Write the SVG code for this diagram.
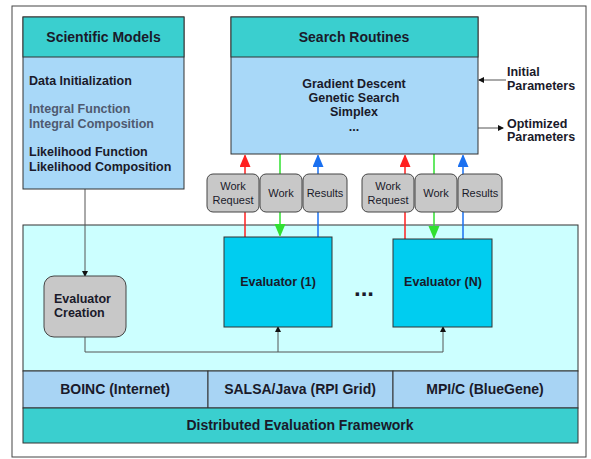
<svg xmlns="http://www.w3.org/2000/svg" width="591" height="459" viewBox="0 0 591 459">
<style>
text{font-family:"Liberation Sans",Arial,sans-serif;fill:#1a1a2a}
.b{font-weight:bold}
.h{font-size:14px;font-weight:bold}
.t{font-size:12.5px;font-weight:bold}
.g{fill:#4f5a70}
.s{font-size:11px}
.hdr{fill:#3acfcf;stroke:#333;stroke-width:1}
.body{fill:#a8d8f8;stroke:#333;stroke-width:1}
.btn{fill:#c8c8c8;stroke:#444;stroke-width:1}
.ev{fill:#00cdf0;stroke:#333;stroke-width:1}
.ln{stroke:#555;stroke-width:1;fill:none}
</style>
<defs>
<marker id="ak" markerWidth="6" markerHeight="6" refX="5" refY="3" orient="auto" markerUnits="userSpaceOnUse"><path d="M0,0 L6,3 L0,6 Z" fill="#111"/></marker>
<marker id="ar" markerWidth="11" markerHeight="13" refX="12" refY="5.5" orient="auto" markerUnits="userSpaceOnUse"><path d="M0,0 L13,5.5 L0,11 Z" fill="#ff2020"/></marker>
<marker id="ag" markerWidth="11" markerHeight="13" refX="12" refY="5.5" orient="auto" markerUnits="userSpaceOnUse"><path d="M0,0 L13,5.5 L0,11 Z" fill="#30e030"/></marker>
<marker id="ab" markerWidth="11" markerHeight="13" refX="12" refY="5.5" orient="auto" markerUnits="userSpaceOnUse"><path d="M0,0 L13,5.5 L0,11 Z" fill="#1a70f0"/></marker>
</defs>
<rect x="0" y="0" width="591" height="459" fill="#fff"/>
<rect x="12" y="6" width="574" height="451" fill="#fff" stroke="#444" stroke-width="1"/>

<g id="framework">
<rect x="23" y="225" width="555" height="146" fill="#ccffff" stroke="#333"/>
<rect x="23" y="371" width="185" height="37" fill="#a8d4f4" stroke="#333"/>
<rect x="208" y="371" width="185" height="37" fill="#a8d4f4" stroke="#333"/>
<rect x="393" y="371" width="185" height="37" fill="#a8d4f4" stroke="#333"/>
<rect x="23" y="408" width="555" height="35" fill="#3acfcf" stroke="#333"/>
<text class="h" x="115" y="394" text-anchor="middle">BOINC (Internet)</text>
<text class="h" x="300" y="394" text-anchor="middle">SALSA/Java (RPI Grid)</text>
<text class="h" x="485" y="394" text-anchor="middle">MPI/C (BlueGene)</text>
<text class="h" x="300" y="430" text-anchor="middle">Distributed Evaluation Framework</text>
</g>

<g id="connectors">
<line x1="245" y1="237" x2="245" y2="155" stroke="#ff2020" stroke-width="1.5" marker-end="url(#ar)"/>
<line x1="280" y1="154" x2="280" y2="236" stroke="#30e030" stroke-width="1.5" marker-end="url(#ag)"/>
<line x1="318" y1="237" x2="318" y2="155" stroke="#1a70f0" stroke-width="1.5" marker-end="url(#ab)"/>
<line x1="405" y1="239" x2="405" y2="155" stroke="#ff2020" stroke-width="1.5" marker-end="url(#ar)"/>
<line x1="434" y1="154" x2="434" y2="238" stroke="#30e030" stroke-width="1.5" marker-end="url(#ag)"/>
<line x1="463" y1="239" x2="463" y2="155" stroke="#1a70f0" stroke-width="1.5" marker-end="url(#ab)"/>
<line class="ln" x1="85" y1="189" x2="85" y2="276" marker-end="url(#ak)"/>
<polyline class="ln" points="85,337 85,352 443,352 443,327" marker-end="url(#ak)"/>
<line class="ln" x1="278" y1="352" x2="278" y2="327" marker-end="url(#ak)"/>
<line class="ln" x1="506" y1="80" x2="479" y2="80" marker-end="url(#ak)"/>
<line class="ln" x1="478" y1="128" x2="503" y2="128" marker-end="url(#ak)"/>
</g>

<g id="scientific-models">
<rect class="body" x="23" y="17" width="161" height="172"/>
<rect class="hdr" x="23" y="17" width="161" height="40"/>
<text class="h" x="103.5" y="42" text-anchor="middle">Scientific Models</text>
<text class="t" x="29" y="85">Data Initialization</text>
<text class="t g" x="29" y="113">Integral Function</text>
<text class="t g" x="29" y="128">Integral Composition</text>
<text class="t" x="29" y="156">Likelihood Function</text>
<text class="t" x="29" y="171">Likelihood Composition</text>
</g>

<g id="search-routines">
<rect class="body" x="231" y="17" width="247" height="137"/>
<rect class="hdr" x="231" y="17" width="247" height="40"/>
<text class="h" x="354" y="42" text-anchor="middle">Search Routines</text>
<text class="t" x="354" y="88" text-anchor="middle">Gradient Descent</text>
<text class="t" x="354" y="102" text-anchor="middle">Genetic Search</text>
<text class="t" x="354" y="116" text-anchor="middle">Simplex</text>
<text class="t" x="354" y="131" text-anchor="middle">...</text>
</g>

<g id="initial-parameters">
<text class="t" x="507" y="76">Initial</text>
<text class="t" x="507" y="90">Parameters</text>
</g>
<g id="optimized-parameters">
<text class="t" x="507" y="128">Optimized</text>
<text class="t" x="507" y="141">Parameters</text>
</g>

<g id="buttons-1">
<rect class="btn" x="207" y="174" width="52" height="38" rx="6"/>
<rect class="btn" x="260" y="174" width="42" height="38" rx="6"/>
<rect class="btn" x="303" y="174" width="44" height="38" rx="6"/>
<text class="s" x="233" y="190" text-anchor="middle">Work</text>
<text class="s" x="233" y="204" text-anchor="middle">Request</text>
<text class="s" x="281" y="197" text-anchor="middle">Work</text>
<text class="s" x="325" y="197" text-anchor="middle">Results</text>
</g>
<g id="buttons-n">
<rect class="btn" x="362" y="174" width="52" height="38" rx="6"/>
<rect class="btn" x="415" y="174" width="42" height="38" rx="6"/>
<rect class="btn" x="458" y="174" width="44" height="38" rx="6"/>
<text class="s" x="388" y="190" text-anchor="middle">Work</text>
<text class="s" x="388" y="204" text-anchor="middle">Request</text>
<text class="s" x="436" y="197" text-anchor="middle">Work</text>
<text class="s" x="480" y="197" text-anchor="middle">Results</text>
</g>

<g id="evaluator-creation">
<rect class="btn" x="44" y="276" width="82" height="61" rx="10"/>
<text class="t" x="54" y="303">Evaluator</text>
<text class="t" x="54" y="317">Creation</text>
</g>
<g id="evaluator-1">
<rect class="ev" x="224" y="237" width="108" height="90"/>
<text class="t" x="278" y="286" text-anchor="middle">Evaluator (1)</text>
</g>
<g id="ellipsis">
<text x="364" y="296" text-anchor="middle" style="font-size:24px;font-weight:bold">...</text>
</g>
<g id="evaluator-n">
<rect class="ev" x="393" y="239" width="99" height="88"/>
<text class="t" x="443" y="286" text-anchor="middle">Evaluator (N)</text>
</g>
</svg>
